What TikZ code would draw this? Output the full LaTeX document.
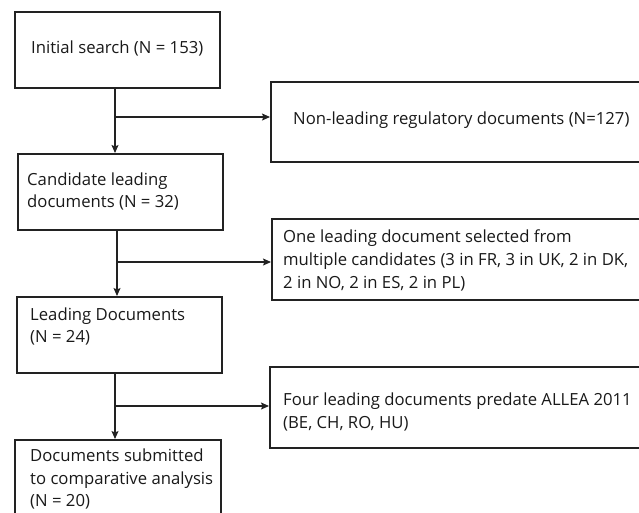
\documentclass[tikz,border=0pt]{standalone}
\usepackage{fontspec}
\setmainfont{Open Sans}
\usetikzlibrary{arrows.meta,calc}
\definecolor{linec}{HTML}{222222}
\tikzset{
  box/.style={draw=linec, line width=1.8pt, rectangle, inner sep=0pt, anchor=north west},
  txt/.style={inner sep=0pt, anchor=west, align=left, font=\fontsize{16.7}{22.8}\selectfont, text=black!90},
  arr/.style={draw=linec, line width=1.1pt, -{Stealth[length=8pt,width=7pt,inset=1.5pt]}},
  ln/.style={draw=linec, line width=1pt}
}
\begin{document}
\begin{tikzpicture}[x=1pt,y=-1pt]
\useasboundingbox (0,0) rectangle (639,512);
\clip (0,0) rectangle (639,512);
% left boxes
\node[box, minimum width=205pt, minimum height=76pt] (b1) at (14,11) {};
\node[box, minimum width=205pt, minimum height=76pt] (b2) at (17,153) {};
\node[box, minimum width=205pt, minimum height=76pt] (b3) at (16,296) {};
\node[box, minimum width=206pt, minimum height=90pt] (b4) at (14,439) {};
% right boxes
\node[box, minimum width=400pt, minimum height=80pt] (r1) at (270,81) {};
\node[box, minimum width=400pt, minimum height=81pt] (r2) at (271,218) {};
\node[box, minimum width=400pt, minimum height=81pt] (r3) at (269,366) {};
% texts
\node[txt] (t1) at (31,48) {Initial search (N = 153)};
\node[txt] (t2) at (27,191.5) {Candidate leading\\documents (N = 32)};
\node[txt] (t3) at (30,326.5) {Leading Documents\\(N = 24)};
\node[txt] (t4) at (30,479) {Documents submitted\\to comparative analysis\\(N = 20)};
\node[txt] (tr1) at (293,120) {Non-leading regulatory documents (N=127)};
\node[txt] (tr2) at (283,260.5) {One leading document selected from\\multiple candidates (3 in FR, 3 in UK, 2 in DK,\\2 in NO, 2 in ES, 2 in PL)};
\node[txt] (tr3) at (283,412) {Four leading documents predate ALLEA 2011\\(BE, CH, RO, HU)};
% junctions
\coordinate (j1) at (115,117);
\coordinate (j2) at (117,262);
\coordinate (j3) at (115,406);
% connectors
\draw[arr] (b1.south -| j1) -- (j1 |- b2.north);
\draw[arr] (j1) -- (j1 -| r1.west);
\draw[arr] (b2.south -| j2) -- (j2 |- b3.north);
\draw[arr] (j2) -- (j2 -| r2.west);
\draw[arr] (b3.south -| j3) -- (j3 |- b4.north);
\draw[arr] (j3) -- (j3 -| r3.west);
\end{tikzpicture}
\end{document}
